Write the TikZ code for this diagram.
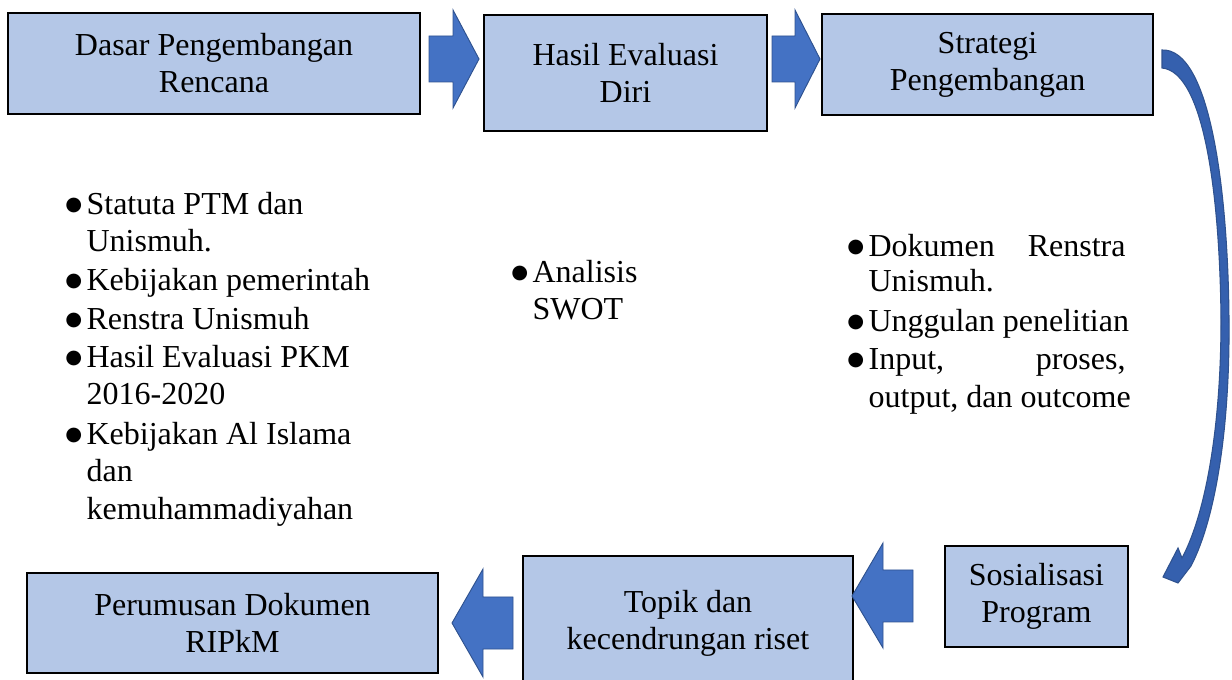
\documentclass[tikz,border=0pt]{standalone}
\usepackage{fontspec}
\setmainfont{Liberation Serif}
\newfontfamily\bulfont{DejaVu Sans}
\definecolor{boxfill}{HTML}{B4C7E7}
\definecolor{arrfill}{HTML}{4472C4}
\definecolor{arrline}{HTML}{2F528F}
\definecolor{curvefill}{HTML}{3560AE}
\newcommand\itembul{\makebox[16pt][l]{\raisebox{3pt}{\bulfont\fontsize{14.5}{14.5}\selectfont ●}}}
\newcommand\itemgap{\hspace*{16pt}}
\begin{document}
\begin{tikzpicture}[x=0.75pt,y=-0.75pt,
  box/.style={draw=black, line width=1.6pt, fill=boxfill, align=center, inner sep=0pt,
    font=\fontsize{24}{27.75}\selectfont},
  blockarrow/.style={fill=arrfill, draw=arrline, line width=0.7pt, line join=miter},
  curvearrow/.style={fill=curvefill, draw=arrline, line width=0.8pt, line join=miter},
  item/.style={anchor=base west, inner sep=0pt, font=\fontsize{24}{27.75}\selectfont},
]
\useasboundingbox (0,0) rectangle (1232,680);
\clip (0,0) rectangle (1232,680);

% boxes
\node[box, minimum width=309pt, minimum height=75.75pt] (dasar) at (214,63.5) {Dasar Pengembangan\\Rencana};
\node[box, minimum width=212.25pt, minimum height=87pt] (hasil) at (625.5,73) {Hasil Evaluasi\\Diri};
\node[box, minimum width=248.25pt, minimum height=75.75pt] (strategi) at (987.5,64.5) {Strategi\\Pengembangan};
\node[box, minimum width=137.25pt, minimum height=75.75pt] (sosial) at (1036.5,596.5) {Sosialisasi\\Program};
\node[box, minimum width=247.5pt, minimum height=101.25pt] (topik) at (688,623.5) {Topik dan\\kecendrungan riset};
\node[box, minimum width=308.25pt, minimum height=75pt] (rumus) at (232.5,623) {Perumusan Dokumen\\RIPkM};

% block arrows
\path[blockarrow] (429,36) -- (453,36) -- (453,10) -- (479,59) -- (453,108) -- (453,82) -- (429,82) -- cycle;
\path[blockarrow] (772,36) -- (795,36) -- (795,10) -- (820,59) -- (795,108) -- (795,82) -- (772,82) -- cycle;
\path[blockarrow] (913,570) -- (883,570) -- (883,543) -- (852,596) -- (883,648) -- (883,622) -- (913,622) -- cycle;
\path[blockarrow] (513,597) -- (483,597) -- (483,569) -- (452,623) -- (483,677) -- (483,649) -- (513,649) -- cycle;

% curved arrow
\path[curvearrow] (1162,50) .. controls (1210,48) and (1228,190) .. (1229,320)
  .. controls (1230,430) and (1215,520) .. (1191,566) -- (1178,583) -- (1163,577) -- (1178,548) -- (1182,558)
  .. controls (1205,515) and (1221,430) .. (1221,320)
  .. controls (1220,200) and (1205,72) .. (1162,68) -- cycle;

% left list
\node[item] (l1) at (65,215) {\itembul Statuta PTM dan};
\node[item] (l2) at (65,252) {\itemgap Unismuh.};
\node[item] (l3) at (65,291) {\itembul Kebijakan pemerintah};
\node[item] (l4) at (65,330) {\itembul Renstra Unismuh};
\node[item] (l5) at (65,368) {\itembul Hasil Evaluasi PKM};
\node[item] (l6) at (65,405) {\itemgap 2016-2020};
\node[item] (l7) at (65,445) {\itembul Kebijakan Al Islama};
\node[item] (l8) at (65,482) {\itemgap dan};
\node[item] (l9) at (65,520) {\itemgap kemuhammadiyahan};

% middle list
\node[item] (m1) at (511,283) {\itembul Analisis};
\node[item] (m2) at (511,320) {\itemgap SWOT};

% right list
\node[item] (r1) at (847,257) {\itembul\hbox to 192.75pt{Dokumen\hfill Renstra}};
\node[item] (r2) at (847,292) {\itemgap Unismuh.};
\node[item] (r3) at (847,332) {\itembul Unggulan penelitian};
\node[item] (r4) at (847,370) {\itembul\hbox to 192.75pt{Input,\hfill proses,}};
\node[item] (r5) at (847,408) {\itemgap output, dan outcome};
\end{tikzpicture}
\end{document}
